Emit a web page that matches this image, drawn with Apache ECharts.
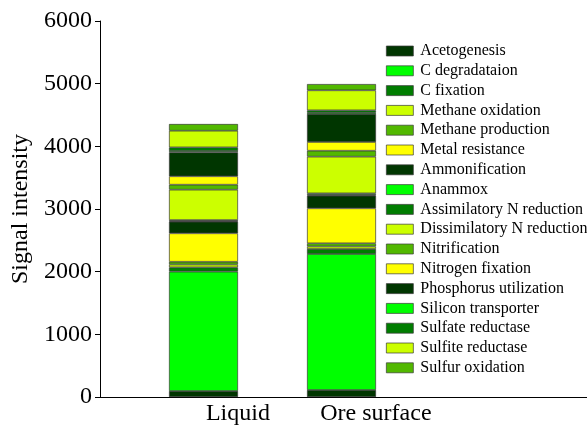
<!DOCTYPE html>
<html>
<head>
<meta charset="utf-8">
<script src="https://cdn.jsdelivr.net/npm/echarts@6/dist/echarts.min.js"></script>
<style>
    html, body { margin: 0; padding: 0; background: #fff; }
    #chart { width: 587px; height: 428px; }
</style>
</head>
<body>
<div id="chart"></div>
<script>
    var samples = ['Liquid', 'Ore surface']

    var functions = [
        'Acetogenesis', 'C degradataion', 'C fixation', 'Methane oxidation',
        'Methane production', 'Metal resistance', 'Ammonification', 'Anammox',
        'Assimilatory N reduction', 'Dissimilatory N reduction', 'Nitrification',
        'Nitrogen fixation', 'Phosphorus utilization', 'Silicon transporter',
        'Sulfate reductase', 'Sulfite reductase', 'Sulfur oxidation'
    ]

    var liquid = [96, 1904, 69, 45, 44, 454, 185, 10, 17, 484, 80, 134, 383, 20, 59, 265, 107]
    var oreSurface = [112, 2170, 80, 40, 51, 558, 201, 12, 26, 585, 95, 139, 447, 20, 39, 319, 100]

    var yTicks = [0, 1000, 2000, 3000, 4000, 5000, 6000]

    // colour cycle repeats every 6 series
    var palette = ['#003600', '#00ff00', '#007d00', '#ccff00', '#52b800', '#ffff00']

    var font = 'Liberation Serif, Times New Roman, serif'

    var series = functions.map(function (name, i) {
        return {
            name: name,
            type: 'bar',
            stack: 'total',
            barWidth: 69,
            xAxisIndex: 1,
            yAxisIndex: 1,
            itemStyle: {
                color: palette[i % palette.length],
                borderColor: '#3a3a3a',
                borderWidth: 0.7
            },
            data: [liquid[i], oreSurface[i]]
        }
    })

    var myChart = echarts.init(document.getElementById('chart'))
    myChart.setOption({
        animation: false,
        textStyle: { fontFamily: font },
        legend: {
            data: functions,
            orient: 'vertical',
            left: 386,
            top: 42,
            padding: 0,
            itemWidth: 27,
            itemHeight: 10,
            itemGap: 1.8,
            icon: 'rect',
            itemStyle: { borderColor: '#3a3a3a', borderWidth: 0.7 },
            textStyle: { fontFamily: font, fontSize: 16, color: '#000', lineHeight: 18, padding: [0, 0, 0, 2] }
        },
        // grid 0 carries the visible axes, grid 1 the bars (bands 138px wide)
        grid: [
            { left: 100, right: 0, top: 21, bottom: 31, outerBoundsMode: 'none' },
            { left: 134.5, width: 276, top: 21, bottom: 31, outerBoundsMode: 'none' }
        ],
        xAxis: [{
            gridIndex: 0,
            type: 'value',
            min: 0,
            max: 3.53,
            interval: 1,
            splitLine: { show: false },
            axisTick: { show: false },
            axisLine: { show: true, lineStyle: { color: '#000', width: 1 } },
            axisLabel: {
                fontFamily: font,
                fontSize: 24,
                color: '#000',
                margin: 5,
                showMaxLabel: false,
                formatter: function (v) {
                    var idx = Math.round(v) - 1
                    return (Math.abs(v - Math.round(v)) < 1e-6 && samples[idx]) ? samples[idx] : ''
                }
            }
        }, {
            gridIndex: 1,
            type: 'category',
            data: samples,
            show: false
        }],
        yAxis: [{
            gridIndex: 0,
            type: 'value',
            min: yTicks[0],
            max: yTicks[yTicks.length - 1],
            interval: 1000,
            name: 'Signal intensity',
            nameLocation: 'middle',
            nameGap: 62,
            nameTextStyle: { fontFamily: font, fontSize: 24, color: '#000' },
            splitLine: { show: false },
            axisLine: { show: true, lineStyle: { color: '#000', width: 1 } },
            axisTick: { show: true, length: 5, lineStyle: { color: '#000' } },
            axisLabel: {
                fontFamily: font, fontSize: 24, color: '#000', margin: 8,
                formatter: function (v) { return String(v) }
            }
        }, {
            gridIndex: 1,
            type: 'value',
            min: yTicks[0],
            max: yTicks[yTicks.length - 1],
            show: false
        }],
        series: series
    })
</script>
</body>
</html>
